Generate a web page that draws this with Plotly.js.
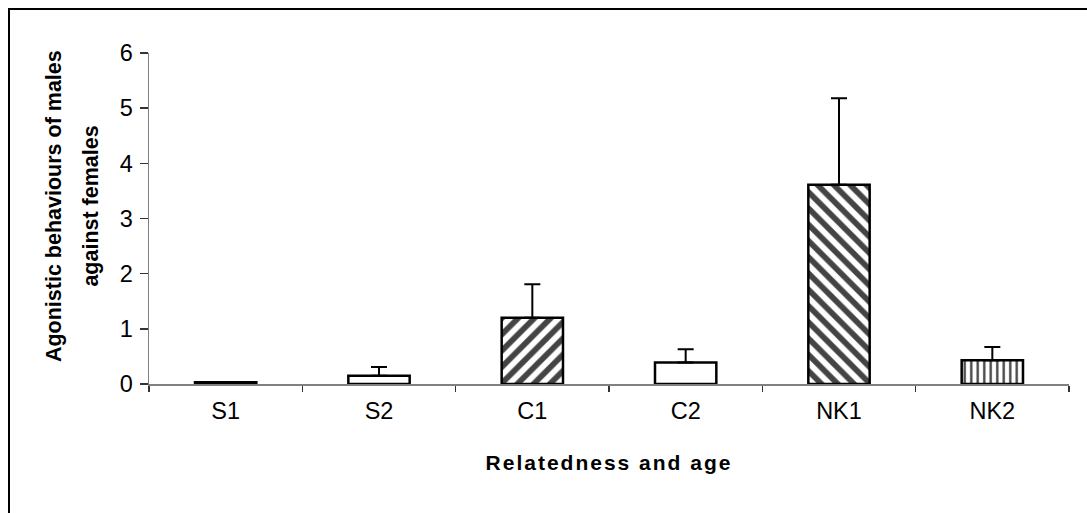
<!DOCTYPE html>
<html>
<head>
<meta charset="utf-8">
<script src="https://cdn.plot.ly/plotly-3.0.1.min.js"></script>
<style>
  html, body { margin: 0; padding: 0; background: #fff; }
  #wrap { position: relative; width: 1087px; height: 513px; overflow: hidden; }
  #chart { position: absolute; left: 0; top: 0; width: 1087px; height: 513px; }
  #frame { position: absolute; left: 8px; top: 8px; width: 1100px; height: 520px;
           border-left: 2px solid #000; border-top: 2px solid #000; pointer-events: none; }
  .xtitle { letter-spacing: 2px; }
</style>
</head>
<body>
<div id="wrap">
  <div id="chart"></div>
  <div id="frame"></div>
</div>
<script>
// Data
const categories = ["S1", "S2", "C1", "C2", "NK1", "NK2"];
const means = [0.03, 0.15, 1.20, 0.39, 3.61, 0.43];
const errorsUp = [0, 0.16, 0.61, 0.24, 1.57, 0.24];
const patternShapes = ["", "", "/", "", "\\", "|"];
const patternSizes = [8, 8, 11.5, 8, 11.5, 6.5];
const patternSolidity = [0.3, 0.3, 0.5, 0.3, 0.5, 0.36];
const fillColors = ["#000000", "#ffffff", "#ffffff", "#ffffff", "#ffffff", "#ffffff"];
const yTitleLines = ["Agonistic behaviours of males", "against females"];
const xTitle = "Relatedness and age";

const FONT = "Liberation Sans, Arial, sans-serif";

const trace = {
  type: "bar",
  x: categories,
  y: means,
  width: 0.4,
  marker: {
    color: fillColors,
    line: { color: "#000", width: 2.5 },
    pattern: {
      shape: patternShapes,
      size: patternSizes,
      solidity: patternSolidity,
      fgcolor: "#000",
      fgopacity: 1,
      bgcolor: "#fff",
      fillmode: "overlay"
    }
  },
  error_y: {
    type: "data",
    symmetric: false,
    array: errorsUp,
    arrayminus: errorsUp.map(() => 0),
    color: "#000",
    thickness: 2,
    width: 8
  },
  hoverinfo: "x+y"
};

const layout = {
  width: 1087,
  height: 513,
  margin: { l: 149, r: 18, t: 53, b: 129 },
  paper_bgcolor: "#fff",
  plot_bgcolor: "#fff",
  showlegend: false,
  font: { family: FONT, size: 23.5, color: "#000" },
  xaxis: {
    type: "category",
    showline: true,
    linecolor: "#808080",
    linewidth: 1.5,
    ticks: "outside",
    tickson: "boundaries",
    ticklen: 6,
    tickwidth: 1.5,
    tickcolor: "#333",
    showgrid: false,
    zeroline: false,
    ticklabelstandoff: 5,
    tickfont: { family: FONT, size: 23.5, color: "#000" },
    title: {
      text: xTitle,
      font: { family: FONT, size: 21, weight: "bold", color: "#000" },
      standoff: 32
    }
  },
  yaxis: {
    range: [0, 6],
    dtick: 1,
    showline: true,
    linecolor: "#808080",
    linewidth: 1.5,
    ticks: "outside",
    ticklen: 8,
    tickwidth: 1.5,
    tickcolor: "#333",
    showgrid: false,
    zeroline: false,
    tickfont: { family: FONT, size: 23.5, color: "#000" },
    ticklabelstandoff: 2
  },
  annotations: [
    {
      text: "<b>" + yTitleLines[0] + "</b>",
      textangle: -90,
      xref: "paper", yref: "paper",
      x: -0.1038, y: 0.536,
      xanchor: "center", yanchor: "middle",
      showarrow: false,
      font: { family: FONT, size: 21.5, color: "#000" }
    },
    {
      text: "<b>" + yTitleLines[1] + "</b>",
      textangle: -90,
      xref: "paper", yref: "paper",
      x: -0.063, y: 0.536,
      xanchor: "center", yanchor: "middle",
      showarrow: false,
      font: { family: FONT, size: 21.5, color: "#000" }
    }
  ]
};

Plotly.newPlot("chart", [trace], layout, { displayModeBar: false, staticPlot: true });
</script>
</body>
</html>
